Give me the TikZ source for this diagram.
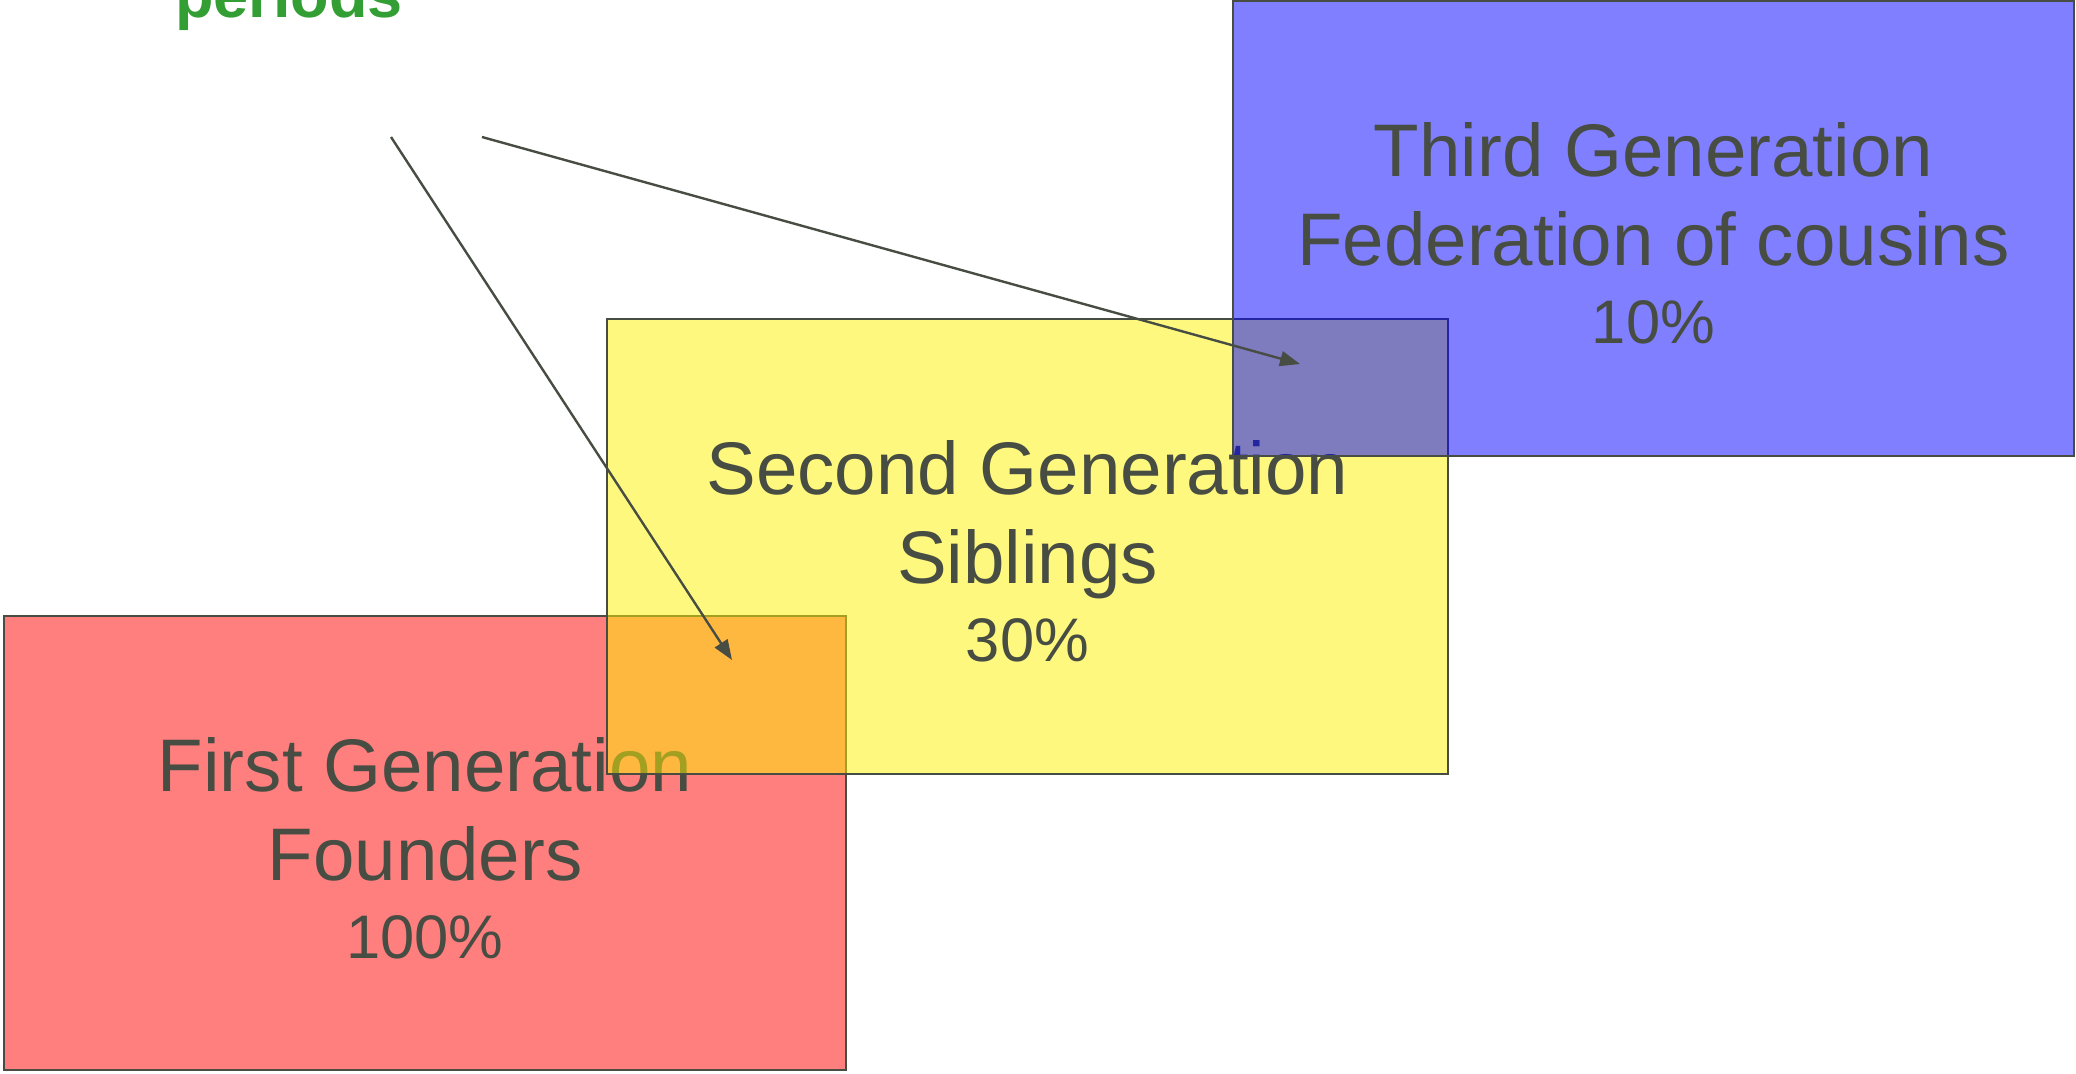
\documentclass[tikz,border=0pt]{standalone}
\usepackage{fontspec}
\setmainfont{Liberation Sans}
\usetikzlibrary{arrows.meta,calc}
\definecolor{ink}{RGB}{71,77,66}
\definecolor{leafgreen}{RGB}{51,158,51}
\begin{document}
\begin{tikzpicture}[x=0.5pt,y=-0.5pt,
  genbox/.style={draw=ink, line width=1pt, fill opacity=0.5, inner sep=0pt, outer sep=0pt},
  headline/.style={text=ink, font=\fontsize{37.25}{44}\selectfont, anchor=base, inner sep=0pt},
  shareline/.style={text=ink, font=\fontsize{30.75}{36}\selectfont, anchor=base, inner sep=0pt},
  pointer/.style={draw=ink, line width=1.2pt, -{Triangle[length=10pt,width=7.5pt]}}]
\useasboundingbox (0,0) rectangle (2076,1073);
\clip (0,0) rectangle (2076,1073);

% first generation
\node[genbox, fill=red, minimum width=421pt, minimum height=227pt] (g1) at (425,843) {};
\node[headline] (g1a) at ($(g1.center)+(0,-52)$) {First Generation};
\node[headline] (g1b) at ($(g1.center)+(0,37)$) {Founders};
\node[shareline] (g1c) at ($(g1.center)+(0,115)$) {100\%};

% second generation
\node[genbox, fill=yellow, minimum width=420.5pt, minimum height=227.5pt] (g2) at (1027.5,546.5) {};
\node[headline] (g2a) at ($(g2.center)+(0,-52)$) {Second Generation};
\node[headline] (g2b) at ($(g2.center)+(0,37)$) {Siblings};
\node[shareline] (g2c) at ($(g2.center)+(0,115)$) {30\%};

% third generation
\node[genbox, fill=blue, minimum width=420.5pt, minimum height=227.5pt] (g3) at (1653.5,228.5) {};
\node[headline] (g3a) at ($(g3.center)+(0,-52)$) {Third Generation};
\node[headline] (g3b) at ($(g3.center)+(0,37)$) {Federation of cousins};
\node[shareline] (g3c) at ($(g3.center)+(0,115)$) {10\%};

% caption tail and pointers
\node[font=\bfseries\fontsize{31.5}{37}\selectfont, text=leafgreen, anchor=base, inner sep=0pt] (note) at (289,17) {periods};
\coordinate (p1) at (391,137);
\coordinate (p2) at (482,137);
\coordinate (t1) at (732,660);
\coordinate (t2) at (1300,364);
\draw[pointer] (p1) -- (t1);
\draw[pointer] (p2) -- (t2);
\end{tikzpicture}
\end{document}
